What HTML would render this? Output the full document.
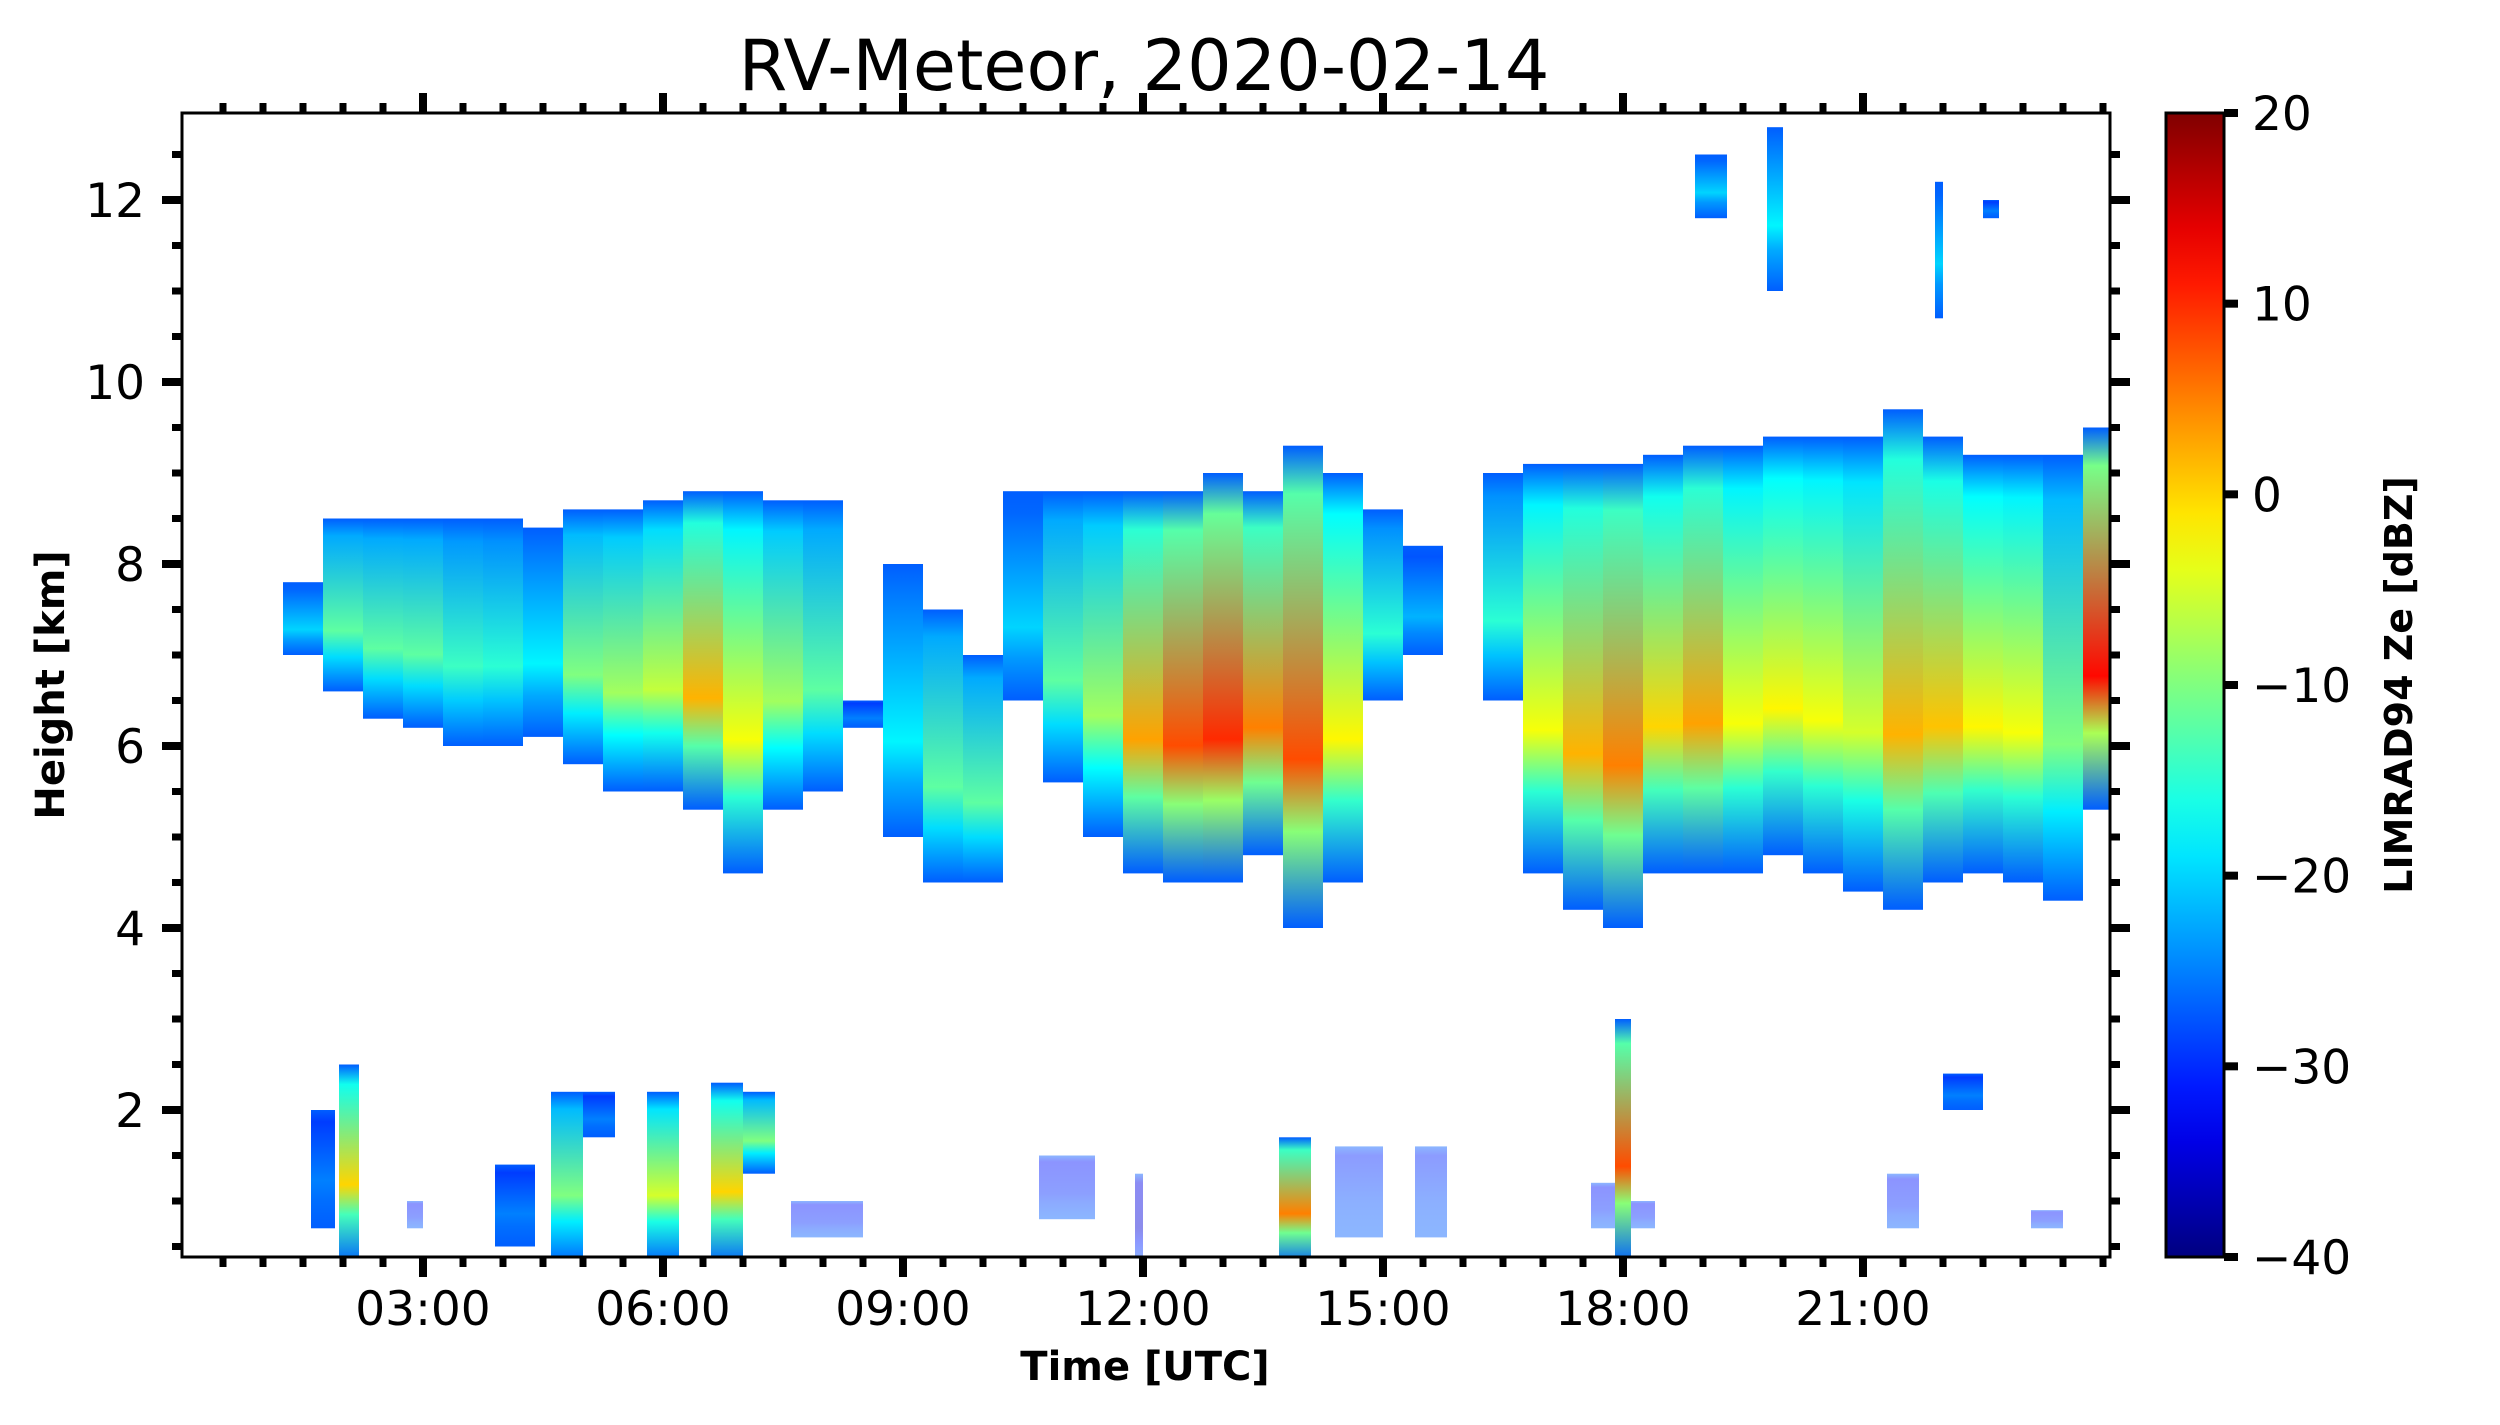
<!DOCTYPE html>
<html><head><meta charset="utf-8">
<style>
html,body{margin:0;padding:0;background:#fff;}
svg{display:block;}
text{font-family:"DejaVu Sans","Liberation Sans",sans-serif;fill:#000;}
</style></head>
<body>
<svg id="chart" width="2500" height="1425" viewBox="0 0 2500 1425" xmlns="http://www.w3.org/2000/svg">
<defs id="defs"></defs>
<text x="1144" y="90" font-size="70" text-anchor="middle">RV-Meteor, 2020-02-14</text>
<g id="plot"></g>
<g id="axes"></g>
<text x="1145" y="1380" font-size="40" font-weight="bold" text-anchor="middle">Time [UTC]</text>
<text transform="translate(64,685) rotate(-90)" font-size="40" font-weight="bold" text-anchor="middle">Height [km]</text>
<g id="cbar"></g>
<text transform="translate(2412,685) rotate(-90)" font-size="38" font-weight="bold" text-anchor="middle">LIMRAD94 Ze [dBZ]</text>
</svg>
<script>
// upper cloud: time (h), top (km), base (km), peak dBZ
const upTime = [1.5,2.0,2.5,3.0,3.5,4.0,4.5,5.0,5.5,6.0,6.5,7.0,7.5,8.0,8.5,9.0,9.5,10.0,10.5,11.0,11.5,12.0,12.5,13.0,13.5,14.0,14.5,15.0,15.5,16.5,17.0,17.5,18.0,18.5,19.0,19.5,20.0,20.5,21.0,21.5,22.0,22.5,23.0,23.5,24.0];
const upTop  = [7.8,8.5,8.5,8.5,8.5,8.5,8.4,8.6,8.6,8.7,8.8,8.8,8.7,8.7,6.5,8.0,7.5,7.0,8.8,8.8,8.8,8.8,8.8,9.0,8.8,9.3,9.0,8.6,8.2,9.0,9.1,9.1,9.1,9.2,9.3,9.3,9.4,9.4,9.4,9.7,9.4,9.2,9.2,9.2,9.5];
const upBase = [7.0,6.6,6.3,6.2,6.0,6.0,6.1,5.8,5.5,5.5,5.3,4.6,5.3,5.5,6.2,5.0,4.5,4.5,6.5,5.6,5.0,4.6,4.5,4.5,4.8,4.0,4.5,6.5,7.0,6.5,4.6,4.2,4.0,4.6,4.6,4.6,4.8,4.6,4.4,4.2,4.5,4.6,4.5,4.3,5.3];
const upPeak = [-20,-12,-12,-12,-14,-15,-18,-10,-8,-6,2,-3,-8,-12,-25,-18,-12,-12,-20,-12,-8,3,8,10,5,8,-2,-15,-22,-15,-3,2,5,0,3,-3,-2,-3,-5,2,1,-2,-3,-10,12];
// low / other echoes: start h, end h, bottom km, top km, peak dBZ
const loStart = [1.6,1.95,2.8,3.9,4.6,5.0,5.8,6.6,7.0,7.6,10.7,11.9,13.7,14.4,15.4,17.6,17.9,18.1,21.3,22.0,23.1,18.9,19.8,21.9,22.5];
const loEnd   = [1.9,2.2,3.0,4.4,5.0,5.4,6.2,7.0,7.4,8.5,11.4,12.0,14.1,15.0,15.8,17.9,18.1,18.4,21.7,22.5,23.5,19.3,20.0,22.0,22.7];
const loBot   = [0.7,0.3,0.7,0.5,0.3,1.7,0.3,0.3,1.3,0.6,0.8,0.3,0.3,0.6,0.6,0.7,0.3,0.7,0.7,2.0,0.7,11.8,11.0,10.7,11.8];
const loTop   = [2.0,2.5,1.0,1.4,2.2,2.2,2.2,2.3,2.2,1.0,1.5,1.3,1.7,1.6,1.6,1.2,3.0,1.0,1.3,2.4,0.9,12.5,12.8,12.2,12.0];
const loPeak  = [-25,0,-30,-25,-10,-25,-5,0,-10,-30,-30,-35,5,-28,-28,-30,8,-30,-30,-25,-30,-20,-18,-20,-25];
const xTicks = ["03:00","06:00","09:00","12:00","15:00","18:00","21:00"];
const xTickHours = [3,6,9,12,15,18,21];
const yTicks = [2,4,6,8,10,12];
const cTicks = [-40,-30,-20,-10,0,10,20];

const NS="http://www.w3.org/2000/svg";
const L=182,R=2110,T=113,B=1257;
const xs=h=>183+80*h;
const ys=k=>200+(12-k)*91;
const cy=v=>B-(v+40)/60*(B-T);
function jet(v){
  let t=Math.max(0,Math.min(1,(v+40)/60));
  const f=c=>Math.round(255*Math.max(0,Math.min(1,c)));
  const r=1.5-Math.abs(4*t-3), g=1.5-Math.abs(4*t-2), b=1.5-Math.abs(4*t-1);
  return `rgb(${f(r)},${f(g)},${f(b)})`;
}
function el(tag,attrs,parent){const e=document.createElementNS(NS,tag);for(const k in attrs)e.setAttribute(k,attrs[k]);parent.appendChild(e);return e;}
const defs=document.getElementById('defs');
const plot=document.getElementById('plot');
let gid=0;
function grad(peak,peakPos){
  const id='g'+(gid++);
  const g=el('linearGradient',{id:id,x1:0,y1:0,x2:0,y2:1},defs);
  const lo=-27;
  const mid=(lo+peak)/2;
  [[0,lo],[0.1,mid-3],[peakPos,peak],[Math.min(0.93,peakPos+0.15),mid],[1,lo]].forEach(s=>el('stop',{offset:s[0],'stop-color':jet(s[1])},g));
  return id;
}
const clip=el('clipPath',{id:'pclip'},defs);
el('rect',{x:L,y:T,width:R-L,height:B-T},clip);
plot.setAttribute('clip-path','url(#pclip)');
for(let i=0;i<upTime.length;i++){
  const id=grad(upPeak[i],0.65);
  const x0=xs(upTime[i]-0.25), x1=xs(upTime[i]+0.25);
  const r=el('rect',{x:x0,y:ys(upTop[i]),width:x1-x0,height:ys(upBase[i])-ys(upTop[i]),fill:`url(#${id})`},plot);
  
  
}
for(let i=0;i<loStart.length;i++){
  const id=grad(loPeak[i],0.6);
  const x0=xs(loStart[i]), x1=xs(loEnd[i]);
  const r=el('rect',{x:x0,y:ys(loTop[i]),width:x1-x0,height:ys(loBot[i])-ys(loTop[i]),fill:`url(#${id})`,opacity:loPeak[i]<=-27?0.45:1},plot);
  
  
}
const axes=document.getElementById('axes');
el('rect',{x:L,y:T,width:R-L,height:B-T,fill:'none',stroke:'#000','stroke-width':3},axes);
for(let m=0.5;m<24.1;m+=0.5){
  const x=xs(m); if(x>R) break;
  const major=xTickHours.indexOf(m)>=0;
  const len=major?20:10, w=major?8:7;
  el('rect',{x:x-w/2,y:B,width:w,height:len},axes);
  el('rect',{x:x-w/2,y:T-len,width:w,height:len},axes);
}
xTickHours.forEach((h,i)=>{
  const t=el('text',{x:xs(h),y:1325,'font-size':47,'text-anchor':'middle'},axes);
  t.textContent=xTicks[i];
  
  
});
for(let k=0.5;k<13;k+=0.5){
  const y=ys(k); if(y>B||y<T) continue;
  const major=yTicks.indexOf(k)>=0;
  const len=major?20:10, w=major?8:7;
  el('rect',{x:L-len,y:y-w/2,width:len,height:w},axes);
  el('rect',{x:R,y:y-w/2,width:len,height:w},axes);
}
yTicks.forEach(k=>{
  const t=el('text',{x:145,y:ys(k)+17,'font-size':47,'text-anchor':'end'},axes);
  t.textContent=String(k);
  
  
});
const cb=document.getElementById('cbar');
const cg=el('linearGradient',{id:'cbg',x1:0,y1:1,x2:0,y2:0},defs);
for(let i=0;i<=20;i++){el('stop',{offset:i/20,'stop-color':jet(-40+3*i)},cg);}
el('rect',{x:2166,y:T,width:58,height:B-T,fill:'url(#cbg)',stroke:'#000','stroke-width':3},cb);
cTicks.forEach(v=>{
  el('rect',{x:2224,y:cy(v)-4,width:14,height:8},cb);
  const t=el('text',{x:2252,y:cy(v)+17,'font-size':47},cb);
  t.textContent=(v<0?'\u2212':'')+Math.abs(v);
  
  
});
</script>
</body></html>
